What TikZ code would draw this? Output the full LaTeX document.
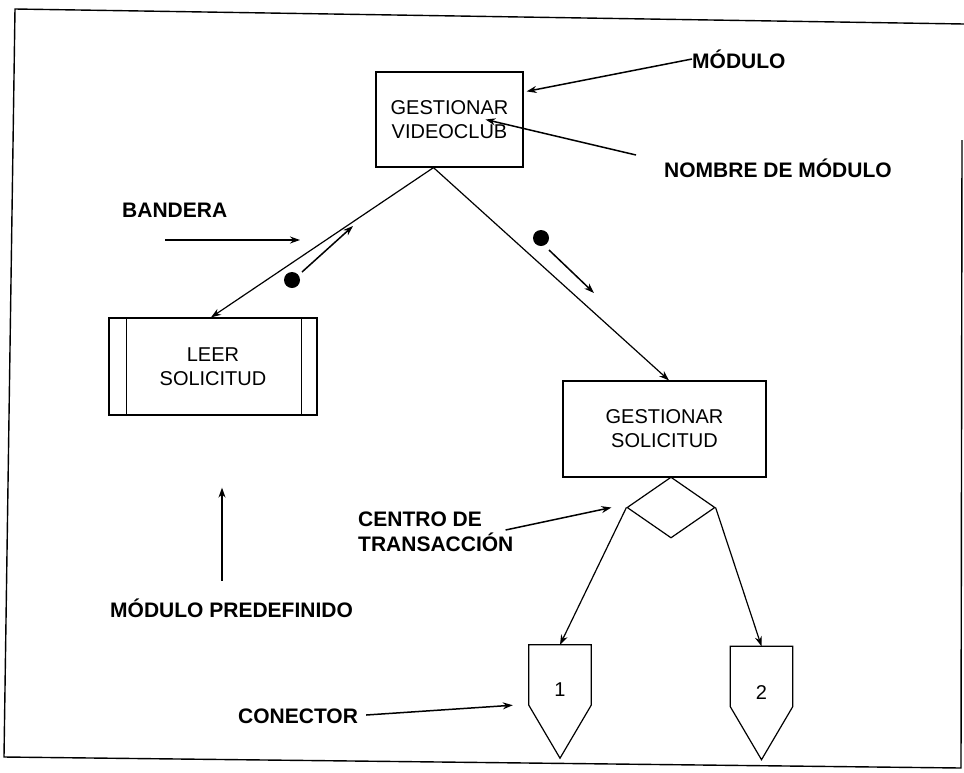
\documentclass[tikz,border=0pt]{standalone}
\usepackage{fontspec}
\setmainfont{Liberation Sans}
\usetikzlibrary{arrows.meta,shapes.geometric,calc}
\begin{document}
\begin{tikzpicture}[x=1pt,y=-1pt,
  every node/.style={font=\fontsize{20}{24}\selectfont},
  modbox/.style={draw, line width=1.2pt, align=center, inner sep=0pt},
  lbl/.style={font=\fontsize{21}{25}\selectfont\bfseries, align=left, inner sep=0pt},
  link/.style={line width=1.2pt, -{Stealth[length=10pt,width=7pt]}},
  pointer/.style={line width=1.5pt, -{Stealth[length=10pt,width=7pt]}},
  flagdot/.style={circle, fill, inner sep=0pt, minimum size=16pt},
  conn/.style={inner sep=0pt, minimum width=62pt, minimum height=60pt},
  connline/.style={line width=1.2pt, line join=miter},
]
\useasboundingbox (0,0) rectangle (964,772);

% sheet frame
\draw[line width=1.4pt] (964,24) -- (15,9) -- (4,757) -- (961,768) -- (962,140);

% modules
\node[modbox, minimum width=147pt, minimum height=95pt] (top) at (449.5,119.5) {GESTIONAR\\VIDEOCLUB};
\node[modbox, minimum width=208pt, minimum height=97pt] (leer) at (213,366.5) {LEER\\SOLICITUD};
\draw[line width=1.2pt] ([xshift=18pt]leer.north west) -- ([xshift=18pt]leer.south west)
                        ([xshift=-16pt]leer.north east) -- ([xshift=-16pt]leer.south east);
\node[modbox, minimum width=203pt, minimum height=96pt] (gs) at (664.5,429) {GESTIONAR\\SOLICITUD};

% transaction centre
\node[diamond, draw, line width=1.2pt, inner sep=0pt, minimum width=88pt, minimum height=61pt] (dia) at (671,507.5) {};

% off-page connectors
\node[conn, label={[yshift=-15pt]center:1}] (c1) at (560,675) {};
\node[conn, label={[yshift=-16pt]center:2}] (c2) at (761.5,676.5) {};
\foreach \c in {c1,c2}
  \draw[connline] (\c.north west) -- (\c.north east) -- (\c.south east)
                  -- ($(\c.south)+(0,53)$) -- (\c.south west) -- cycle;

% calls
\draw[link] ([xshift=-16pt]top.south) -- ([xshift=-2pt]leer.north);
\draw[link] ([xshift=-16pt]top.south) -- ([xshift=4.5pt]gs.north);
\draw[link] (dia.west) -- (c1.north);
\draw[link] (dia.east) -- (c2.north);

% flags
\node[flagdot] (fl) at (292,280) {};
\node[flagdot] (fr) at (541,238) {};
\draw[pointer] ($(fl)+(10,-8)$) -- ($(fl)+(61,-54)$);
\draw[pointer] ($(fr)+(8,12)$) -- ($(fr)+(53,55)$);

% annotations
\node[lbl, anchor=west] (mod) at (692,59) {MÓDULO};
\draw[pointer] (mod.west) -- ($(top.north east)+(3,20)$);
\node[lbl, anchor=west] (nom) at (664,168) {NOMBRE DE MÓDULO};
\draw[pointer] ($(nom.west)+(-28,-13)$) -- ($(top.center)+(36,0)$);
\node[lbl, anchor=west] (band) at (122,210) {BANDERA};
\draw[pointer] ($(band.west)+(43,30)$) -- ($(band.west)+(178,30)$);
\node[lbl, anchor=west] (ctr) at (358,532) {CENTRO DE\\TRANSACCIÓN};
\draw[pointer] ($(ctr.east)+(-8,-2)$) -- ($(dia.west)+(-15,0)$);
\node[lbl, anchor=west] (pre) at (110,608) {MÓDULO PREDEFINIDO};
\draw[pointer] ($(leer.south)+(9,165)$) -- ($(leer.south)+(9,72)$);
\node[lbl, anchor=west] (con) at (238,716) {CONECTOR};
\draw[pointer] ($(con.east)+(8,-1)$) -- ($(c1.south west)+(-16,0)$);
\end{tikzpicture}
\end{document}
